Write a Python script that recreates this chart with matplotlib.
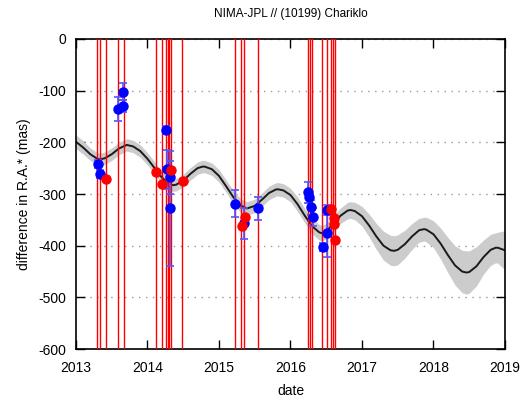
import matplotlib
matplotlib.use("Agg")
import matplotlib.pyplot as plt
import numpy as np

plt.rcParams['font.family'] = ['Liberation Sans', 'DejaVu Sans']

# Model curve
model_year = [2013.0, 2013.1, 2013.2, 2013.3, 2013.33, 2013.4, 2013.5, 2013.6, 2013.71,
              2013.8, 2013.9, 2014.0, 2014.1, 2014.2, 2014.3, 2014.36, 2014.4, 2014.5,
              2014.6, 2014.7, 2014.77, 2014.8, 2014.9, 2015.0, 2015.1, 2015.2, 2015.3,
              2015.39, 2015.5, 2015.6, 2015.7, 2015.8, 2015.83, 2015.9, 2016.0, 2016.1,
              2016.2, 2016.3, 2016.4, 2016.44, 2016.5, 2016.6, 2016.7, 2016.8, 2016.84,
              2016.9, 2017.0, 2017.1, 2017.2, 2017.3, 2017.4, 2017.45, 2017.5, 2017.6,
              2017.7, 2017.8, 2017.87, 2017.9, 2018.0, 2018.1, 2018.2, 2018.3, 2018.4,
              2018.46, 2018.5, 2018.6, 2018.7, 2018.8, 2018.87, 2018.9, 2019.0]
model_val = [-199, -210, -223, -232, -233, -231, -223, -212, -205,
             -208, -217, -232, -250, -268, -280, -283, -282, -274,
             -261, -250, -247, -247, -252, -265, -285, -306, -322,
             -328, -323, -311, -298, -291, -291, -293, -302, -320,
             -342, -362, -374, -376, -372, -358, -342, -332, -331,
             -333, -343, -361, -382, -400, -409, -410, -408, -397,
             -382, -370, -368, -369, -378, -396, -418, -438, -450,
             -452, -451, -440, -422, -408, -404, -404, -409]
model_err = [13, 13, 12, 12, 12, 12, 12, 12, 12,
             12, 12, 12, 12, 12, 12, 12, 12, 12,
             12, 12, 12, 12, 12, 12, 12, 13, 13,
             13, 13, 13, 13, 13, 13, 13, 13, 14,
             14, 15, 15, 15, 15, 15, 15, 16, 16,
             17, 19, 22, 25, 28, 29, 29, 29, 27,
             25, 23, 23, 24, 26, 30, 34, 38, 41,
             42, 41, 38, 33, 30, 29, 30, 38]

# Observations: blue (with error bars)
blue_year = [2013.303, 2013.336, 2013.592, 2013.661, 2013.661, 2014.254, 2014.268,
             2014.315, 2014.315, 2015.220, 2015.350, 2015.545, 2016.249, 2016.259,
             2016.283, 2016.310, 2016.459, 2016.515, 2016.515]
blue_val = [-242, -261, -135, -130, -102, -176, -252,
            -268, -328, -319, -357, -328, -297, -305,
            -326, -345, -402, -376, -331]
blue_err = [8, 8, 23, 12, 17, 8, 38,
            32, 111, 26, 30, 22, 20, 12,
            15, 17, 8, 45, 10]

# Observations: red
red_year = [2013.420, 2014.119, 2014.203, 2014.322, 2014.490, 2015.316, 2015.357,
            2016.566, 2016.608, 2016.608, 2016.622]
red_val = [-270, -257, -280, -254, -275, -361, -345,
           -329, -347, -358, -389]

# Vertical markers (epochs)
epoch_lines = [2013.298, 2013.340, 2013.420, 2013.592, 2013.667, 2014.123, 2014.199,
               2014.255, 2014.283, 2014.305, 2014.324, 2014.483, 2015.220, 2015.312,
               2015.354, 2015.545, 2016.249, 2016.268, 2016.305, 2016.445, 2016.515,
               2016.562, 2016.599, 2016.618]

x_ticks = [2013, 2014, 2015, 2016, 2017, 2018, 2019]
y_ticks = [0, -100, -200, -300, -400, -500, -600]

fig = plt.figure(figsize=(5.23, 4.01), dpi=100)
ax = fig.add_axes([76/523, 1-349/401, (505-76)/523, (349-39)/401])

my = np.array(model_year)
mv = np.array(model_val)
me = np.array(model_err)
ax.fill_between(my, mv - me, mv + me, color='#cccccc', lw=0, zorder=1)
ax.plot(my, mv, color='#1a1a1a', lw=1.4, zorder=2)

for e in epoch_lines:
    ax.axvline(e, color='#ff0000', lw=1.0, zorder=3)

ax.errorbar(blue_year, blue_val, yerr=blue_err, fmt='o', color='#0000ff',
            ecolor='#5555ff', elinewidth=1.2, capsize=3, capthick=1.2, ms=6.5,
            mec='#0000ff', zorder=4)
ax.plot(red_year, red_val, 'o', color='#ff0000', ms=6.5, zorder=5)

ax.set_xlim(2013, 2019)
ax.set_ylim(-600, 0)
ax.set_xticks(x_ticks)
ax.set_xticklabels([str(t) for t in x_ticks])
ax.set_yticks(y_ticks)
ax.set_yticklabels([str(t) for t in y_ticks])
ax.tick_params(axis='x', direction='in', length=6.5, width=1, top=True,
               labelsize=10, pad=9)
ax.tick_params(axis='y', direction='in', length=6.5, width=1, right=True,
               labelsize=10, pad=7)
ax.yaxis.grid(True, linestyle=(0, (1, 4)), color='#999999', lw=1)
ax.set_axisbelow(True)
for s in ax.spines.values():
    s.set_linewidth(1.2)

ax.set_xlabel('date', fontsize=10, labelpad=6)
ax.set_ylabel('difference in R.A.* (mas)', fontsize=10, labelpad=5)
ax.set_title('NIMA-JPL // (10199) Chariklo', fontsize=8.5, pad=16)

fig.savefig('out.png', dpi=100)
